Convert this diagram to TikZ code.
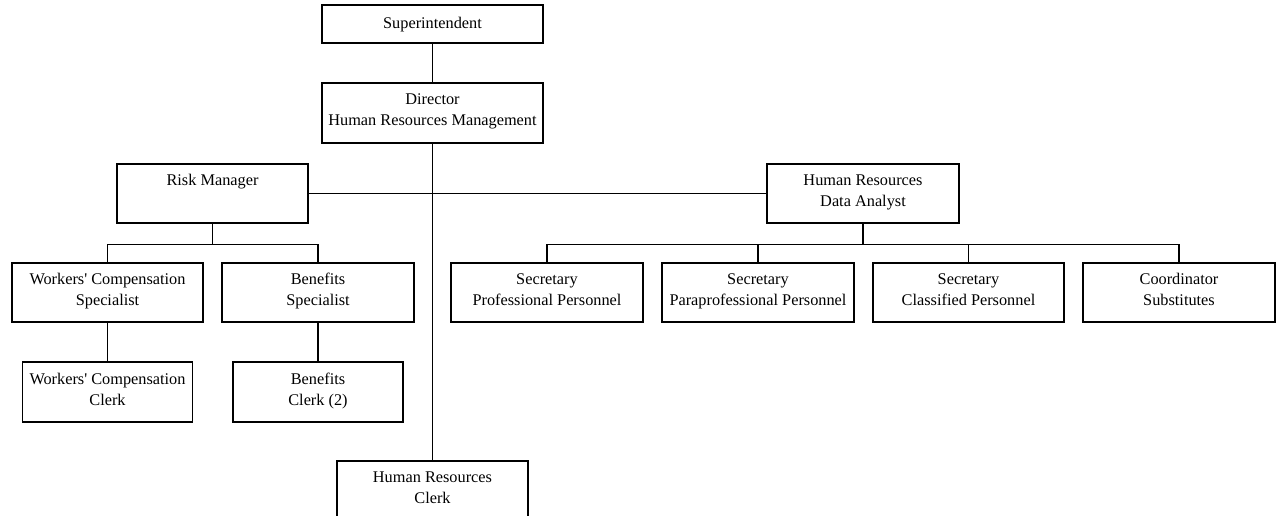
\documentclass[tikz,border=0pt]{standalone}
\usepackage{fontspec}
\setmainfont{Liberation Serif}
\begin{document}
\begin{tikzpicture}[x=1pt,y=-1pt,
  line width=1.4pt,
  post/.style={draw, rectangle, inner sep=0pt, align=center,
    minimum width=191pt, minimum height=59pt,
    font=\fontsize{16.3}{21}\selectfont,
    execute at begin node=\strut, execute at end node=\strut},
  clerkbox/.style={post, minimum width=170pt, minimum height=60pt}]
\useasboundingbox (0,0) rectangle (1276,516);
\clip (0,0) rectangle (1276,516);

% top of the chart
\node[post, minimum width=221pt, minimum height=38pt] (sup) at (432.5,24) {Superintendent};
\node[post, minimum width=221pt, minimum height=60pt] (dir) at (432.5,113) {Director\\Human Resources Management};

% second level
\node[post] (risk) at (212.5,193.5) {Risk Manager\\\mbox{}};
\node[post, minimum width=192pt] (analyst) at (863,193.5) {Human Resources\\Data Analyst};

% risk branch
\node[post] (wcs) at (107.5,292.5) {Workers\textquotesingle{} Compensation\\Specialist};
\node[post, minimum width=192pt] (bens) at (318,292.5) {Benefits\\Specialist};
\node[clerkbox] (wcc) at (107.5,392) {Workers\textquotesingle{} Compensation\\Clerk};
\node[clerkbox] (benc) at (318,392) {Benefits\\Clerk (2)};

% data analyst branch
\node[post, minimum width=192pt] (sp) at (547,292.5) {Secretary\\Professional Personnel};
\node[post, minimum width=192pt] (spp) at (758,292.5) {Secretary\\Paraprofessional Personnel};
\node[post] (scl) at (968.5,292.5) {Secretary\\Classified Personnel};
\node[post, minimum width=192pt] (coord) at (1179,292.5) {Coordinator\\Substitutes};

% clerk under the director
\node[post, minimum height=60pt] (hrc) at (432.5,491) {Human Resources\\Clerk};

% connectors
\draw (sup) -- (dir);
\draw (dir.south) -- (hrc.north);
\draw (risk.east) -- (analyst.west);

\draw (risk.south) -- ++(0,21) coordinate (rb);
\draw (wcs.north) -- (wcs.north |- rb) -- (bens.north |- rb) -- (bens.north);
\draw (wcs) -- (wcc);
\draw (bens) -- (benc);

\draw (analyst.south) -- ++(0,21) coordinate (ab);
\draw (sp.north) -- (sp.north |- ab) -- (coord.north |- ab) -- (coord.north);
\draw (spp.north) -- (spp.north |- ab);
\draw (scl.north) -- (scl.north |- ab);
\end{tikzpicture}
\end{document}
